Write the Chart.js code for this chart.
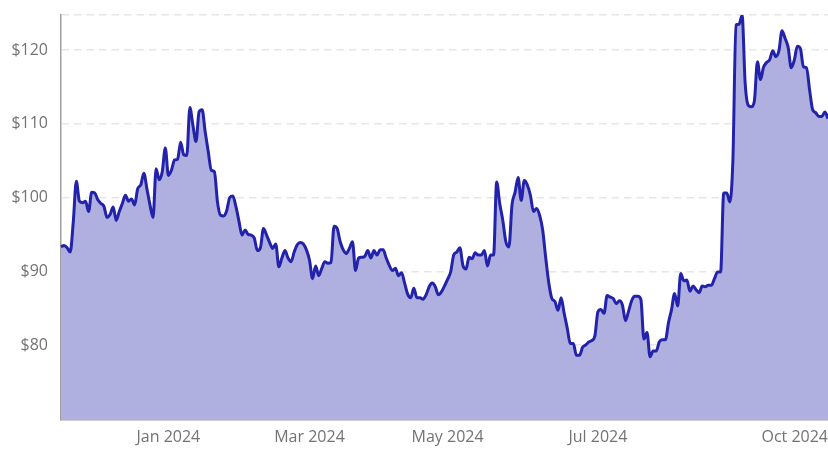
<!DOCTYPE html>
<html><head><meta charset="utf-8">
<script src="https://cdn.jsdelivr.net/npm/chart.js@4.4.1/dist/chart.umd.min.js"></script>
<style>html,body{margin:0;padding:0;background:#fff}#wrap{width:828px;height:450px}</style>
</head><body><div id="wrap"><canvas id="c" width="828" height="450"></canvas></div>
<script>
const priceValues = [
93.3, 93.5, 93.2, 92.6, 96.7, 102.2, 99.5, 99.3, 99.5, 98.1,
100.7, 100.6, 99.7, 99.2, 98.8, 97.3, 97.7, 98.7, 96.9, 98.1,
99.2, 100.3, 99.5, 99.8, 99.0, 101.2, 101.7, 103.3, 101.2, 99.0,
97.3, 103.9, 102.4, 103.5, 106.7, 103.0, 103.7, 105.1, 105.2, 107.5,
105.8, 105.7, 112.2, 109.8, 107.6, 111.6, 111.9, 108.9, 106.2, 103.7,
103.5, 99.4, 97.6, 97.5, 98.2, 100.0, 100.2, 98.8, 96.8, 94.9,
95.6, 95.0, 94.9, 94.5, 92.8, 93.2, 95.8, 94.9, 93.9, 93.1,
93.7, 90.6, 91.8, 92.8, 91.8, 91.3, 92.6, 93.6, 93.9, 93.7,
92.9, 91.5, 89.0, 90.7, 89.4, 90.4, 91.3, 91.1, 91.2, 96.1,
95.8, 94.0, 92.9, 92.4, 93.1, 94.0, 90.1, 91.8, 91.9, 92.0,
92.8, 91.8, 92.8, 92.2, 92.9, 92.9, 91.8, 90.8, 90.1, 90.4,
89.4, 89.8, 88.4, 86.9, 86.4, 87.7, 86.4, 86.4, 86.2, 86.8,
87.9, 88.4, 87.9, 86.8, 87.2, 88.0, 88.9, 89.9, 92.2, 92.6,
93.2, 90.8, 90.3, 91.9, 91.7, 92.5, 92.2, 92.2, 92.8, 90.7,
92.2, 92.2, 102.1, 99.2, 96.9, 94.0, 93.3, 99.0, 100.7, 102.7,
99.6, 102.3, 101.7, 100.3, 98.1, 98.5, 97.6, 95.6, 91.8, 88.4,
86.3, 85.9, 84.7, 86.4, 84.3, 82.3, 80.2, 80.2, 78.6, 78.6,
79.7, 80.0, 80.4, 80.6, 81.2, 84.5, 84.8, 84.3, 86.7, 86.5,
86.3, 85.6, 86.0, 85.4, 83.3, 84.6, 86.0, 86.6, 86.6, 86.2,
80.8, 81.7, 78.4, 79.2, 79.2, 80.4, 80.7, 80.7, 83.0, 84.8,
87.0, 85.3, 89.7, 88.7, 88.8, 87.3, 88.0, 87.5, 87.1, 88.0,
87.9, 88.1, 88.1, 89.0, 89.9, 89.9, 100.6, 100.6, 99.4, 105.1,
123.4, 123.5, 124.7, 115.5, 112.5, 112.3, 113.1, 118.4, 116.0, 117.7,
118.3, 118.7, 119.9, 119.1, 119.9, 122.6, 121.6, 120.4, 117.6, 118.6,
120.5, 120.2, 117.7, 117.6, 114.6, 111.9, 111.5, 111.0, 111.0, 111.6,
110.7
];
const tickIndices = [35, 81, 126, 175, 250];
const tickLabels = ['Jan 2024', 'Mar 2024', 'May 2024', 'Jul 2024', 'Oct 2024'];
const yTickValues = [80, 90, 100, 110, 120];
const yMin = 69.83;
const yMax = 124.75;
const categories = priceValues.map((_, i) => i);

Chart.defaults.font.family = "'Open Sans', 'Liberation Sans', sans-serif";

new Chart(document.getElementById('c'), {
  type: 'line',
  data: {
    labels: categories,
    datasets: [{
      data: priceValues,
      borderColor: '#2222aa',
      borderWidth: 3,
      backgroundColor: '#afb0df',
      fill: 'start',
      pointRadius: 0,
      pointHoverRadius: 0,
      cubicInterpolationMode: 'monotone'
    }]
  },
  options: {
    responsive: false,
    animation: false,
    layout: { padding: { top: 15, right: 0, left: 0, bottom: 0 } },
    plugins: { legend: { display: false }, tooltip: { enabled: false } },
    scales: {
      x: {
        type: 'category',
        grid: { display: false, drawTicks: true, tickLength: 8, tickColor: 'rgba(0,0,0,0)' },
        border: { display: true, color: '#a0a0a0', width: 1.5 },
        ticks: {
          autoSkip: false, maxRotation: 0, minRotation: 0, align: 'inner',
          padding: 0, color: '#737373', font: { size: 16 },
          callback: (v, i) => { const k = tickIndices.indexOf(i); return k >= 0 ? tickLabels[k] : ''; }
        },
        afterFit: s => { s.height = 30; }
      },
      y: {
        min: yMin, max: yMax,
        grid: { color: '#e6e6e6', lineWidth: 1.5, drawTicks: true, tickLength: 13, tickColor: 'rgba(0,0,0,0)' },
        border: { display: true, color: '#a0a0a0', width: 1.5, dash: [7.5, 5] },
        ticks: {
          padding: 0, color: '#737373', font: { size: 16 },
          callback: v => yTickValues.includes(v) ? '$' + v : ''
        },
        afterBuildTicks: s => { s.ticks = yTickValues.concat([yMax]).map(v => ({ value: v })); },
        afterFit: s => { s.width = 61; }
      }
    }
  }
});
</script>
</body></html>
